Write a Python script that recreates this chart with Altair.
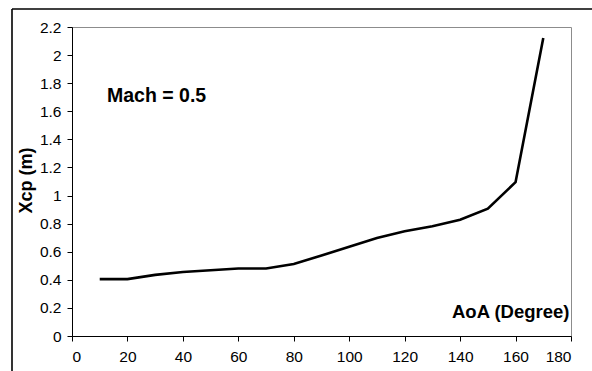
import altair as alt
import pandas as pd

aoa = [10, 20, 30, 40, 50, 60, 70, 80, 90, 100, 110, 120, 130, 140, 150, 160, 170]
xcp = [0.405, 0.405, 0.435, 0.456, 0.468, 0.481, 0.481, 0.512, 0.573, 0.635, 0.698, 0.746, 0.782, 0.828, 0.907, 1.095, 2.122]
x_ticks = [0, 20, 40, 60, 80, 100, 120, 140, 160, 180]
y_ticks = [0, 0.2, 0.4, 0.6, 0.8, 1.0, 1.2, 1.4, 1.6, 1.8, 2.0, 2.2]

df = pd.DataFrame({"aoa": aoa, "xcp": xcp})

FONT = "Liberation Sans"
W, H = 499, 309

line = alt.Chart(df).mark_line(color="black", strokeWidth=2.6).encode(
    x=alt.X("aoa:Q", scale=alt.Scale(domain=[0, 180], nice=False),
            axis=alt.Axis(values=x_ticks, title="AoA (Degree)", grid=False,
                          domainColor="black", tickColor="black", tickSize=5,
                          labelFont=FONT, labelFontSize=15.5, labelColor="black", labelPadding=8,
                          titleFont=FONT, titleFontSize=18.5, titleFontWeight="bold", titleColor="black",
                          titleX=497, titleY=-19, titleAlign="right", titleBaseline="alphabetic",
                          titleAnchor=None)),
    y=alt.Y("xcp:Q", scale=alt.Scale(domain=[0, 2.2], nice=False),
            axis=alt.Axis(values=y_ticks, title="Xcp (m)", grid=False, format="~g",
                          domainColor="black", tickColor="black", tickSize=5,
                          labelFont=FONT, labelFontSize=15.5, labelColor="black", labelPadding=6,
                          titleFont=FONT, titleFontSize=18, titleFontWeight="bold", titleColor="black",
                          titleX=-46, titleY=153, titleAngle=-90, titleAlign="center",
                          titleBaseline="middle")),
)

ann = alt.Chart(pd.DataFrame({"t": ["Mach = 0.5"]})).mark_text(
    font=FONT, fontSize=19.5, fontWeight="bold", align="left", baseline="alphabetic", color="black"
).encode(x=alt.value(35), y=alt.value(75), text="t:N")

frame_top = alt.Chart(pd.DataFrame({"a": [0]})).mark_rule(color="black", strokeWidth=1.6).encode(
    x=alt.value(-60), x2=alt.value(530), y=alt.value(-18))
frame_left = alt.Chart(pd.DataFrame({"a": [0]})).mark_rule(color="black", strokeWidth=1.6).encode(
    x=alt.value(-60), y=alt.value(-18), y2=alt.value(360))

chart = alt.layer(line, ann, frame_top, frame_left).properties(
    width=W, height=H,
    autosize=alt.AutoSizeParams(type="none"),
    padding={"left": 72, "top": 27, "right": 21, "bottom": 35},
    background="white",
).configure_view(stroke="#8c8c8c", strokeWidth=1)

chart.save("out.html", embed_options={"renderer": "svg", "actions": False})
